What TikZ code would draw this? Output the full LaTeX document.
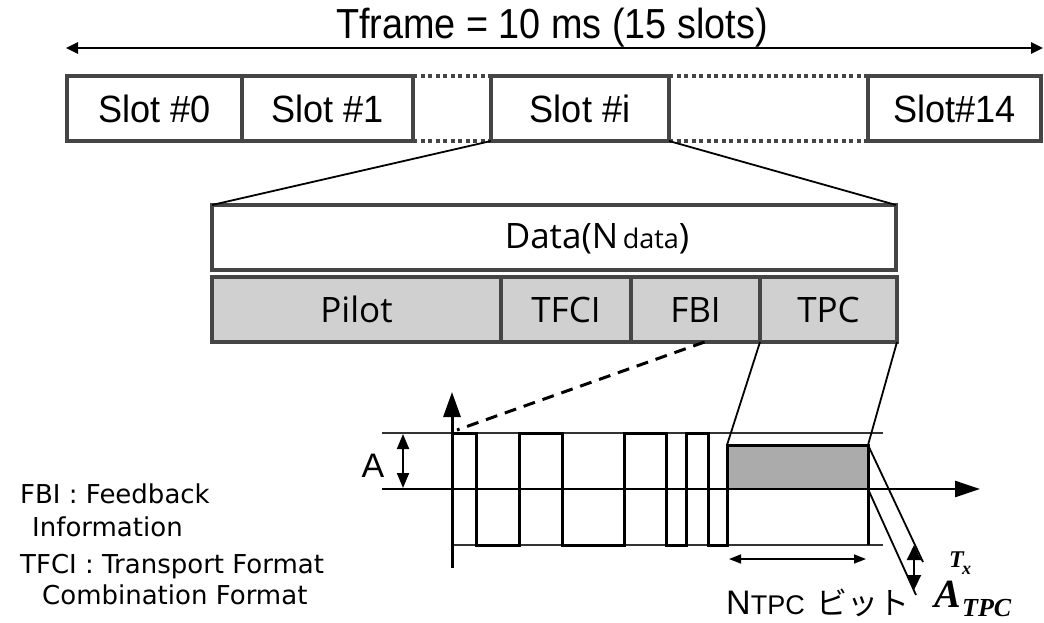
\documentclass[tikz,border=0pt]{standalone}
\usepackage{fontspec}
\setmainfont{Liberation Sans}
\newfontfamily\osans{Open Sans}
\newfontfamily\dejavu{DejaVu Sans}
\newfontfamily\cjk{Noto Sans CJK JP}
\newfontfamily\tserif{Liberation Serif}
\usetikzlibrary{arrows.meta,calc}
\definecolor{frameclr}{HTML}{454545}
\definecolor{fieldclr}{HTML}{D0D0D0}
\definecolor{tpcclr}{HTML}{ABABAB}
\begin{document}
\begin{tikzpicture}[x=1pt,y=-1pt,
  frame/.style={draw=frameclr, line width=3.5pt, outer sep=0pt, inner sep=0pt},
  slotbox/.style={frame, fill=white, minimum height=65pt, font=\fontsize{38}{38}\selectfont},
  field/.style={frame, fill=fieldclr, minimum height=65pt, font=\osans\fontsize{35}{35}\selectfont},
  dotline/.style={draw=frameclr, line width=3.5pt, dash pattern=on 4pt off 3.5pt},
  link/.style={line width=1.8pt},
  level/.style={line width=1.8pt, black!80},
  wave/.style={line width=3pt, line join=miter},
  note/.style={anchor=base west, inner sep=0pt, font=\dejavu\fontsize{26}{26}\selectfont},
]
\useasboundingbox (0,0) rectangle (1044,622);

% title and frame arrow
\node[anchor=base, inner sep=0pt, font=\fontsize{42}{42}\selectfont] (title) at (552,38) {\scalebox{0.9}[1]{Tframe = 10 ms (15 slots)}};
\coordinate (fl) at (66,48);
\coordinate (fr) at (1043,48);
\draw[line width=2.5pt, {Triangle[length=12pt,width=11pt]}-{Triangle[length=12pt,width=11pt]}] (fl) -- (fr);

% slots
\node[slotbox, minimum width=175pt] (s0) at (154.5,108.5) {\scalebox{0.95}[1]{Slot \#0}};
\node[slotbox, minimum width=171pt] (s1) at (327.5,108.5) {\scalebox{0.95}[1]{Slot \#1}};
\node[slotbox, minimum width=178pt] (si) at (580,108.5) {\scalebox{0.95}[1]{Slot \#i}};
\node[slotbox, minimum width=173pt] (s14) at (954.5,108.5) {\scalebox{0.95}[1]{Slot\#14}};
\draw[dotline] (s1.north east) -- (si.north west);
\draw[dotline] (s1.south east) -- (si.south west);
\draw[dotline] (si.north east) -- (s14.north west);
\draw[dotline] (si.south east) -- (s14.south west);

% data and fields
\node[frame, fill=white, minimum width=684pt, minimum height=65pt] (data) at (554,237.5) {};
\node[anchor=base, inner sep=0pt, font=\osans\fontsize{35}{35}\selectfont] (datatext) at (597,248) {Data(N{\fontsize{27}{27}\selectfont\,data})};
\draw[link] (si.south west) -- (data.north west);
\draw[link] (si.south east) -- (data.north east);

\node[field, minimum width=289pt] (pilot) at (356.5,309.5) {Pilot};
\node[field, minimum width=130pt] (tfci) at (566,309.5) {TFCI};
\node[field, minimum width=129pt] (fbi) at (695.5,309.5) {FBI};
\node[field, minimum width=137pt] (tpc) at (828.5,309.5) {TPC};

% waveform
\draw[level] (382,433) -- (883,433);
\draw[level] (452,545) -- (883,545);
\node[fill=tpcclr, inner sep=0pt, outer sep=0pt, minimum width=141pt, minimum height=44pt] (tpcbox) at (797.5,467) {};
\draw[wave] (452,433) -- (476,433) -- (476,545) -- (519,545) -- (519,433) -- (562,433) -- (562,545)
  -- (624,545) -- (624,433) -- (666,433) -- (666,545) -- (686,545) -- (686,433) -- (708,433)
  -- (708,545) -- (727,545) -- (727,445) -- (868,445) -- (868,545);
\coordinate (xl) at (382,489);
\coordinate (xr) at (980,489);
\draw[line width=2.5pt, -{Triangle[length=25pt,width=16pt]}] (xl) -- (xr);
\coordinate (yb) at (452,568);
\coordinate (yt) at (452,392);
\draw[line width=3pt, -{Triangle[length=25pt,width=17pt]}] (yb) -- (yt);

% dashed and TPC expansion lines
\coordinate (wstart) at (457,430);
\draw[line width=3pt, dash pattern=on 12pt off 8pt] ($(fbi.south west)!0.57!(fbi.south east)$) -- (wstart);
\draw[link] (tpc.south west) -- (tpcbox.north west);
\draw[link] (tpc.south east) -- (tpcbox.north east);

% amplitude A
\coordinate (at) at (403,434);
\coordinate (ab) at (403,488);
\draw[line width=2pt, {Triangle[length=15pt,width=12pt]}-{Triangle[length=15pt,width=12pt]}] (at) -- (ab);
\node[inner sep=0pt, font=\fontsize{34}{34}\selectfont] (alabel) at (373,466) {A};

% A_TPC
\coordinate (e1) at (923,562);
\coordinate (e2) at (916,595);
\draw[line width=1.8pt] (tpcbox.north east) -- (e1);
\draw[line width=1.8pt] (tpcbox.south east) -- (e2);
\coordinate (atu) at (914,545);
\coordinate (atd) at (914,590);
\draw[line width=2pt, {Triangle[length=15pt,width=14pt]}-{Triangle[length=15pt,width=14pt]}] (atu) -- (atd);
\node[anchor=base west, inner sep=0pt, font=\tserif\bfseries\itshape\fontsize{40}{40}\selectfont] (atA) at (934,607) {A};
\node[anchor=base west, inner sep=0pt, font=\tserif\bfseries\itshape\fontsize{26}{26}\selectfont] (atsub) at (962,616) {TPC};
\node[anchor=base west, inner sep=0pt, font=\tserif\bfseries\itshape\fontsize{24}{24}\selectfont] (atsup) at (949,567) {T};
\node[anchor=base west, inner sep=0pt, font=\tserif\bfseries\itshape\fontsize{18}{18}\selectfont] (atsupx) at (962,574) {x};

% NTPC
\coordinate (nl) at (729,559);
\coordinate (nr) at (866,559);
\draw[line width=1.5pt, {Triangle[length=12pt,width=9pt]}-{Triangle[length=12pt,width=9pt]}] (nl) -- (nr);
\node[anchor=base west, inner sep=0pt] (ntpc) at (726,614) {{\fontsize{34}{34}\selectfont N}{\fontsize{27}{27}\selectfont TPC}\hspace{12pt}{\cjk\fontsize{31}{31}\selectfont ビット}};

% notes
\node[note] (n1) at (20,503) {FBI : Feedback};
\node[note] (n2) at (32,536) {Information};
\node[note] (n3) at (20,573) {TFCI : Transport Format};
\node[note] (n4) at (42,604) {Combination Format};
\end{tikzpicture}
\end{document}
